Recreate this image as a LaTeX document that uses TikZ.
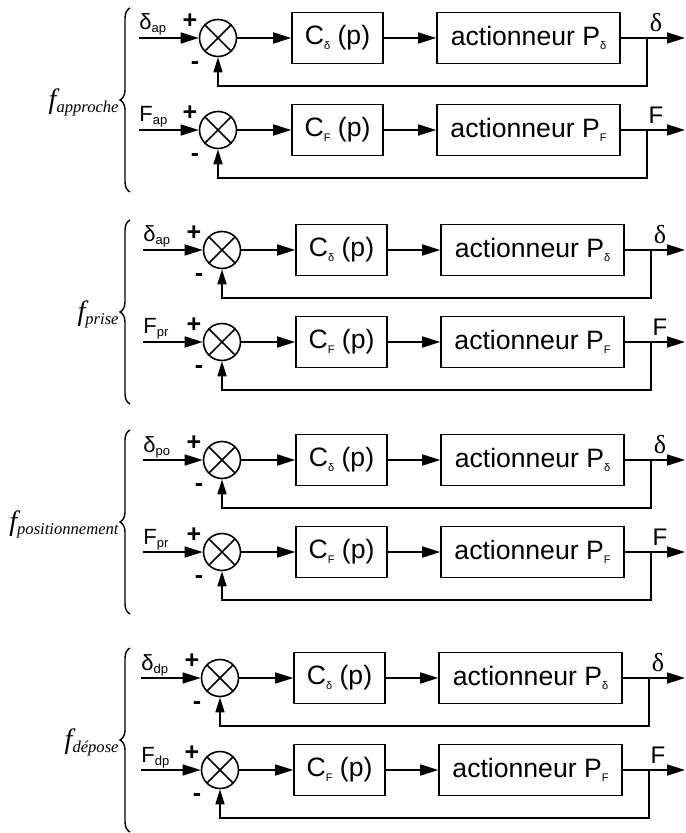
\documentclass[tikz,border=0pt]{standalone}
\usepackage{fontspec}
\setmainfont{Liberation Sans}
\newfontfamily\serifrm{Liberation Serif}
\usetikzlibrary{arrows.meta,calc,positioning,decorations.pathreplacing}
\newcommand{\tinysub}[1]{\raisebox{-2.2pt}{\fontsize{5.5}{6}\selectfont#1}}
\tikzset{
  sig/.style={line width=0.8pt, -{Triangle[length=9pt,width=5.5pt]}},
  fbarrow/.style={line width=0.8pt, -{Triangle[length=7.5pt,width=4.5pt]}},
  block/.style={draw, line width=0.8pt, minimum height=25.5pt, inner sep=0pt,
    font=\fontsize{13.3}{15}\selectfont},
  sumnode/.style={circle, draw, line width=0.8pt, minimum size=18.5pt, inner sep=0pt,
    path picture={\draw[line width=0.8pt]
      (path picture bounding box.north west) -- (path picture bounding box.south east)
      (path picture bounding box.north east) -- (path picture bounding box.south west);}},
  sign/.style={font=\fontsize{12.5}{13}\selectfont\bfseries, inner sep=0pt},
  tag/.style={inner sep=0pt, anchor=base west},
  bracket/.style={decorate, decoration={brace, amplitude=5pt}, line width=0.7pt},
  phase/.style={anchor=east, inner sep=0pt}
}

\begin{document}
\begin{tikzpicture}[x=0.5pt,y=-0.5pt]
  \useasboundingbox (0,0) rectangle (685,833);

  \foreach \g/\y/\dx/\phasename/\refa/\refb in
    {1/0/0/approche/ap/ap, 2/212/4/prise/ap/pr,
     3/422/4/positionnement/po/pr, 4/640/2/dépose/dp/dp}
  {
    % brace and phase name
    \draw[bracket] (130,\y+192) -- (130,\y+8);
    \node[phase] (ph\g) at (119,\y+102)
      {{\serifrm\itshape\fontsize{14}{15}\selectfont f}%
       \raisebox{-2pt}{\serifrm\itshape\fontsize{8.3}{10}\selectfont\phasename}};

    % the two loops: delta then F
    \foreach \r/\dy/\insym/\refsub/\outsym in
      {a/38/δ/\refa/{\serifrm\fontsize{13}{14}\selectfont δ}, b/130/F/\refb/F}
    {
      \coordinate (in\g\r) at (139+\dx,\y+\dy);
      \node[sumnode] (cmp\g\r) at (218+\dx,\y+\dy) {};
      \node[block,minimum width=45.5pt] (ctl\g\r) at (337.5+\dx,\y+\dy)
        {C\tinysub{\insym}\ (p)};
      \node[block,minimum width=91.5pt] (act\g\r) at (528.5+\dx,\y+\dy)
        {actionneur P\tinysub{\insym}};
      \coordinate (br\g\r) at (647+\dx,\y+\dy);
      \coordinate (out\g\r) at (685,\y+\dy);
      \coordinate (fb\g\r) at (218+\dx,\y+\dy+48);

      \draw[sig] (in\g\r) -- (cmp\g\r.west);
      \draw[sig] (cmp\g\r.east) -- (ctl\g\r.west);
      \draw[sig] (ctl\g\r.east) -- (act\g\r.west);
      \draw[sig] (act\g\r.east) -- (out\g\r);
      \draw[fbarrow] (br\g\r) |- (fb\g\r) -- (cmp\g\r.south);

      \node[sign] (plus\g\r) at (190+\dx,\y+\dy-17) {+};
      \node[sign] (minus\g\r) at (195+\dx,\y+\dy+28) {-};
      \node[tag] (lbl\g\r) at (139+\dx,\y+\dy-8)
        {\fontsize{11}{12}\selectfont\insym\raisebox{-1.5pt}{\fontsize{6.5}{7}\selectfont\refsub}};
      \node[inner sep=0pt] (olbl\g\r) at (656+\dx,\y+\dy-15)
        {\fontsize{12}{13}\selectfont\outsym};
    }
  }
\end{tikzpicture}
\end{document}
